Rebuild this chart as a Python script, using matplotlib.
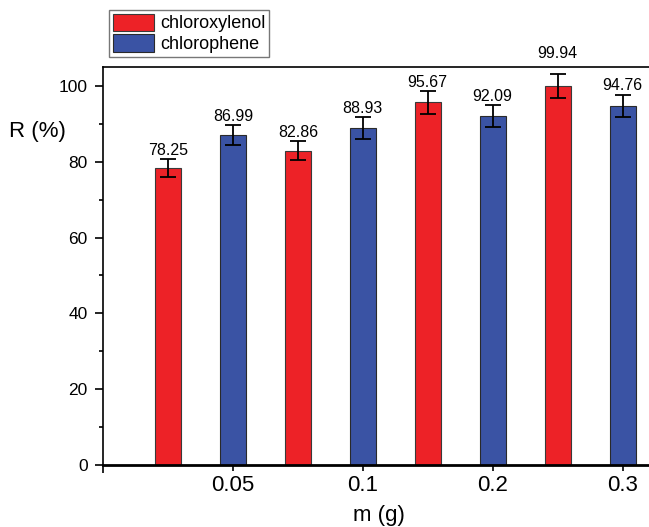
import numpy as np
import matplotlib
matplotlib.use('Agg')
import matplotlib.pyplot as plt
from matplotlib.ticker import MultipleLocator

plt.rcParams['font.family'] = ['Liberation Sans', 'DejaVu Sans']

# data
masses = ['0.05', '0.1', '0.2', '0.3']
chloroxylenol = [78.25, 82.86, 95.67, 99.94]
chloroxylenol_err = [2.4, 2.5, 3.0, 3.1]
chlorophene = [86.99, 88.93, 92.09, 94.76]
chlorophene_err = [2.6, 2.8, 2.9, 2.9]

red = '#ED2227'
blue = '#3A53A4'
ymax = 105

fig = plt.figure(figsize=(6.49, 5.27), dpi=100)
ax = fig.add_axes([103/649, 62/527, 552/649, 398/527])

idx = np.arange(len(masses))
x_red = 2*idx + 1
x_blue = 2*idx + 2

err_kw = dict(ecolor='black', elinewidth=1.3, capsize=6, capthick=1.3)
b1 = ax.bar(x_red, chloroxylenol, width=0.4, color=red, edgecolor='#3a3a3a',
            linewidth=0.8, yerr=chloroxylenol_err, error_kw=err_kw, label='chloroxylenol')
b2 = ax.bar(x_blue, chlorophene, width=0.4, color=blue, edgecolor='#2a2a2a',
            linewidth=0.8, yerr=chlorophene_err, error_kw=err_kw, label='chlorophene')

# value labels above the error caps, pushed above the frame if they would hit it
for xs, vals, errs in [(x_red, chloroxylenol, chloroxylenol_err),
                       (x_blue, chlorophene, chlorophene_err)]:
    for xx, v, e in zip(xs, vals, errs):
        yy = v + e
        if yy + 2.5 > ymax:
            yy = ymax
            off = 4
        else:
            off = 1
        ax.annotate('%.2f' % v, (xx, yy), xytext=(0, off), textcoords='offset points',
                    ha='center', va='bottom', fontsize=11.5, annotation_clip=False)

ax.set_xlim(0, 8.5)
ax.set_ylim(0, ymax)
ax.set_xticks(x_blue)
ax.set_xticklabels(masses)
ax.set_xticks([0], minor=True)
ax.yaxis.set_major_locator(MultipleLocator(20))
ax.yaxis.set_minor_locator(MultipleLocator(10))

ax.tick_params(axis='y', which='major', direction='out', length=6, width=1.2,
               labelsize=12.5, pad=5)
ax.tick_params(axis='y', which='minor', direction='out', length=3, width=1.2)
ax.tick_params(axis='x', which='major', direction='out', length=4, width=1.2,
               labelsize=16, pad=3)
ax.tick_params(axis='x', which='minor', direction='out', length=6, width=1.2)

for s in ['left', 'top', 'right']:
    ax.spines[s].set_linewidth(1.2)
ax.spines['bottom'].set_linewidth(2)

ax.set_xlabel('m (g)', fontsize=16, labelpad=7)
ax.set_ylabel('R (%)', fontsize=16, rotation=0, ha='left', va='center')
ax.yaxis.set_label_coords(-0.17, 0.839)

leg = fig.legend([b1, b2], ['chloroxylenol', 'chlorophene'], loc='upper left',
                 bbox_to_anchor=(109/649, 1 - 10/527), fontsize=13, frameon=True,
                 fancybox=False, edgecolor='#555555', handlelength=2.3,
                 handleheight=1.1, handletextpad=0.35, labelspacing=0.1,
                 borderpad=0.2, borderaxespad=0)
leg.get_frame().set_linewidth(1.0)

fig.savefig('out.png', dpi=100)
